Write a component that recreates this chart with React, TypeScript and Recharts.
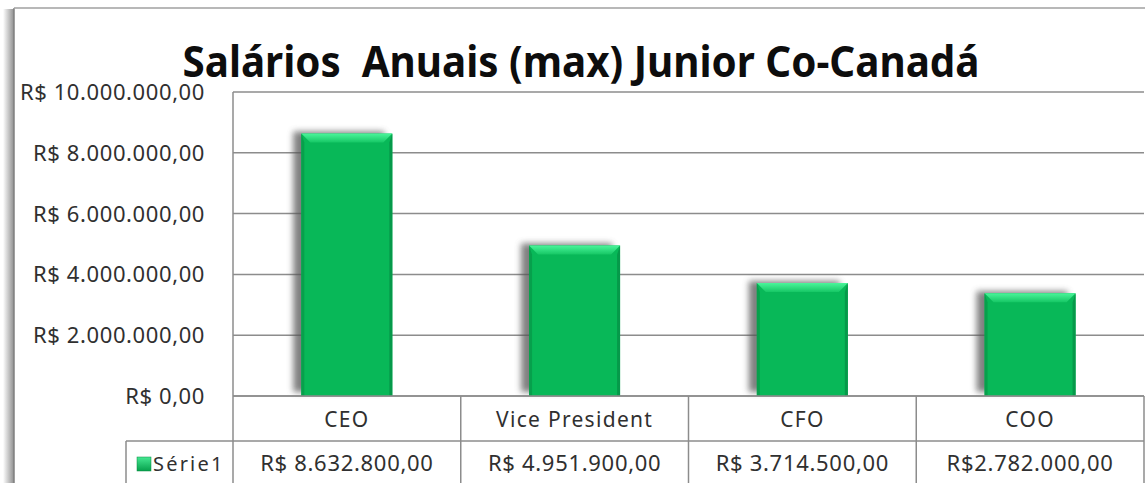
import React from 'react';
import { BarChart, Bar, XAxis, YAxis, CartesianGrid, Customized } from 'recharts';

const categories = ['CEO', 'Vice President', 'CFO', 'COO'];
const barValues = [8632800, 4951900, 3714500, 3380000];
const tableLabels = ['R$ 8.632.800,00', 'R$ 4.951.900,00', 'R$ 3.714.500,00', 'R$2.782.000,00'];
const yTicks = [0, 2000000, 4000000, 6000000, 8000000, 10000000];
const seriesName = 'Série1';
const title = 'Salários  Anuais (max) Junior Co-Canadá';

const data = categories.map((c, i) => ({ name: c, value: barValues[i], label: tableLabels[i] }));

const W = 1145;
const H = 483;
const PLOT_LEFT = 233;
const PLOT_RIGHT = 1144;
const PLOT_TOP = 92;
const PLOT_BOTTOM = 396;
const BAND = (PLOT_RIGHT - PLOT_LEFT) / categories.length;
const LINE = '#8c8c8c';
const TEXT = '#303030';
const FONT = '"Noto Sans", "Open Sans", sans-serif';

function fmt(v: number) {
  const s = Math.round(v).toString().replace(/\B(?=(\d{3})+(?!\d))/g, '.');
  return 'R$ ' + s + ',00';
}

const YTick = (props: any) => {
  const { y, payload } = props;
  return (
    <text x={PLOT_LEFT - 28} y={y} dy="0.36em" textAnchor="end" fontSize={22} letterSpacing={0.6} fontFamily={FONT} fill={TEXT}>
      {fmt(payload.value)}
    </text>
  );
};

const XTick = (props: any) => {
  const { x, y, payload } = props;
  const i = payload.index;
  const left = x - BAND / 2;
  const right = x + BAND / 2;
  const rowY = y + 45;
  return (
    <g>
      <text x={x} y={y + 23} dy="0.36em" textAnchor="middle" fontSize={21} letterSpacing={1.3} fontFamily={FONT} fill={TEXT}>
        {payload.value}
      </text>
      <line x1={left} x2={right} y1={rowY} y2={rowY} stroke={LINE} strokeWidth={1.5} />
      <line x1={right} x2={right} y1={y} y2={H} stroke={LINE} strokeWidth={1.5} />
      {i === 0 && <line x1={left} x2={left} y1={y} y2={H} stroke={LINE} strokeWidth={1.5} />}
      {i === 0 && (
        <g>
          <line x1={126} x2={left} y1={rowY} y2={rowY} stroke={LINE} strokeWidth={1.5} />
          <line x1={126} x2={126} y1={rowY} y2={H} stroke={LINE} strokeWidth={1.5} />
          <rect x={137} y={457} width={14} height={14} fill="url(#legGrad)" stroke="#0a8a40" strokeWidth={0.5} />
          <text x={153} y={464} dy="0.36em" fontSize={20} letterSpacing={2.2} fontFamily={FONT} fill={TEXT}>
            {seriesName}
          </text>
        </g>
      )}
      <text x={x} y={y + 67} dy="0.36em" textAnchor="middle" fontSize={22} letterSpacing={0.7} fontFamily={FONT} fill={TEXT}>
        {tableLabels[i]}
      </text>
    </g>
  );
};

const BevelBar = (props: any) => {
  const { x, y, width: w, height: h } = props;
  if (!h || h <= 0) return null;
  const b = 9;
  const s = 3;
  return (
    <g>
      <rect x={x - 8} y={y - 2} width={w} height={h - 2} fill="#555" opacity={0.75} filter="url(#barBlur)" />
      <rect x={x} y={y} width={w} height={h} fill="#08b858" />
      <polygon points={`${x},${y} ${x + s},${y + b} ${x + s},${y + h} ${x},${y + h}`} fill="#07a04c" />
      <polygon points={`${x + w},${y} ${x + w - s},${y + b} ${x + w - s},${y + h} ${x + w},${y + h}`} fill="#06994a" />
      <polygon points={`${x},${y} ${x + w},${y} ${x + w - b},${y + b} ${x + b},${y + b}`} fill="url(#topGrad)" />
    </g>
  );
};

const Decor = () => (
  <g>
    <defs>
      <filter id="barBlur" x="-30%" y="-10%" width="160%" height="120%">
        <feGaussianBlur stdDeviation="3" />
      </filter>
      <linearGradient id="topGrad" x1="0" y1="0" x2="0" y2="1">
        <stop offset="0%" stopColor="#4af59a" />
        <stop offset="100%" stopColor="#16c765" />
      </linearGradient>
      <linearGradient id="legGrad" x1="0" y1="0" x2="0" y2="1">
        <stop offset="0%" stopColor="#45e892" />
        <stop offset="100%" stopColor="#06a04c" />
      </linearGradient>
      <linearGradient id="frameShadow" x1="0" y1="0" x2="1" y2="0">
        <stop offset="0%" stopColor="#ffffff" />
        <stop offset="100%" stopColor="#8f8f8f" />
      </linearGradient>
    </defs>
    <rect x={3} y={9} width={11} height={H} fill="url(#frameShadow)" />
    <line x1={14} x2={14} y1={8} y2={H} stroke="#808080" strokeWidth={1.5} />
    <line x1={14} x2={W} y1={8} y2={8} stroke="#a0a0a0" strokeWidth={1.5} />
    <text x={581} y={77} textAnchor="middle" fontSize={43} fontWeight="bold" fontFamily={FONT} fill="#0d0d0d" textLength={797} lengthAdjust="spacingAndGlyphs" style={{ whiteSpace: 'pre' }} xmlSpace="preserve">
      {title}
    </text>
  </g>
);

export default function App() {
  return (
    <div style={{ position: 'absolute', left: 0, top: 0, width: W, height: H, background: '#fff' }}>
      <BarChart
        width={W}
        height={H}
        data={data}
        margin={{ top: PLOT_TOP, right: W - PLOT_RIGHT, bottom: 0, left: 0 }}
        barCategoryGap="30%"
      >
        <Customized component={<Decor />} />
        <CartesianGrid horizontal vertical={false} stroke={LINE} strokeWidth={1.5} />
        <YAxis
          type="number"
          domain={[0, 10000000]}
          ticks={yTicks}
          width={PLOT_LEFT}
          axisLine={{ stroke: LINE, strokeWidth: 1.5 }}
          tickLine={false}
          tick={<YTick />}
          interval={0}
        />
        <XAxis
          dataKey="name"
          height={H - PLOT_BOTTOM}
          axisLine={{ stroke: LINE, strokeWidth: 1.5 }}
          tickLine={false}
          tickSize={0}
          tickMargin={0}
          interval={0}
          tick={<XTick />}
        />
        <Bar dataKey="value" shape={<BevelBar />} isAnimationActive={false} />
      </BarChart>
    </div>
  );
}
